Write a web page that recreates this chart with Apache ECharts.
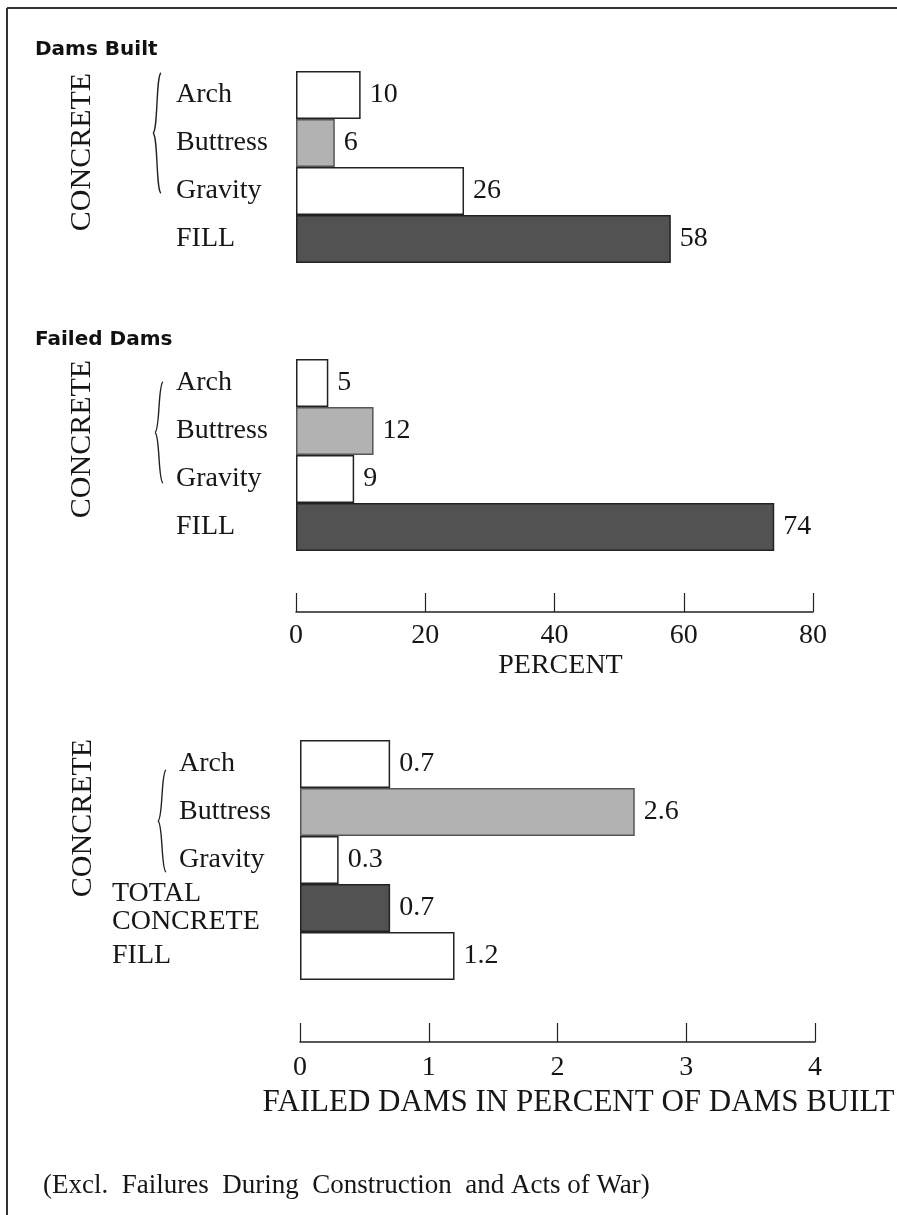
<!DOCTYPE html>
<html>
<head>
<meta charset="utf-8">
<script src="https://cdn.jsdelivr.net/npm/echarts@6/dist/echarts.min.js"></script>
<style>
  html, body { margin: 0; padding: 0; background: #ffffff; }
  #chart { width: 897px; height: 1215px; }
</style>
</head>
<body>
<div id="chart"></div>
<script>
// ---- data ----
const builtCategories = ['Arch', 'Buttress', 'Gravity', 'FILL'];
const builtValues = [10, 6, 26, 58];
const failedCategories = ['Arch', 'Buttress', 'Gravity', 'FILL'];
const failedValues = [5, 12, 9, 74];
const ratioCategories = ['Arch', 'Buttress', 'Gravity', 'TOTAL CONCRETE', 'FILL'];
const ratioValues = [0.7, 2.6, 0.3, 0.7, 1.2];
const percentTicks = [0, 20, 40, 60, 80];
const ratioTicks = [0, 1, 2, 3, 4];

// ---- styles ----
const SERIF = '"Liberation Serif", "Times New Roman", serif';
const INK = '#161616';
const fills = {
  open:  { color: '#ffffff', borderColor: '#222222', borderWidth: 1.5 },
  light: { color: '#b2b2b2', borderColor: '#555555', borderWidth: 1.5 },
  dark:  { color: '#525252', borderColor: '#222222', borderWidth: 1.5 }
};
const builtLook = { Arch: 'open', Buttress: 'light', Gravity: 'open', FILL: 'dark' };
const ratioLook = { Arch: 'open', Buttress: 'light', Gravity: 'open', 'TOTAL CONCRETE': 'dark', FILL: 'open' };

function items(cats, vals, look) {
  return vals.map((v, i) => ({ value: v, itemStyle: fills[look[cats[i]]] }));
}

const valueLabel = {
  show: true, position: 'right', distance: 9,
  fontFamily: SERIF, fontSize: 28, color: INK,
  formatter: p => String(p.value)
};

function catAxis(gridIndex, cats, margin, extra) {
  return Object.assign({
    gridIndex, type: 'category', data: cats, inverse: true,
    axisLine: { show: false }, axisTick: { show: false }, splitLine: { show: false },
    axisLabel: { align: 'left', margin, fontFamily: SERIF, fontSize: 28, color: INK, lineHeight: 28 }
  }, extra || {});
}

function valAxis(gridIndex, ticks, offset, name, nameGap, nameSize, labelMargin, namePadLeft) {
  return {
    gridIndex, type: 'value',
    min: ticks[0], max: ticks[ticks.length - 1], interval: ticks[1] - ticks[0],
    position: 'bottom', offset,
    axisLine: { show: true, lineStyle: { color: '#222', width: 1.5 } },
    axisTick: { show: true, inside: true, length: 19, lineStyle: { color: '#222', width: 1.2 } },
    splitLine: { show: false },
    axisLabel: { margin: labelMargin, fontFamily: SERIF, fontSize: 28, color: INK,
      formatter: v => String(v) },
    name, nameLocation: 'middle', nameGap,
    nameTextStyle: { fontFamily: SERIF, fontSize: nameSize, color: INK, padding: [0, 0, 0, namePadLeft] }
  };
}

function brace(x, top, bottom) {
  const mid = (top + bottom) / 2;
  const st = { stroke: '#222', lineWidth: 1.4, fill: null };
  return [
    { type: 'bezierCurve', silent: true, shape: { x1: x + 4, y1: top, cpx1: x - 1, cpy1: top + 2, cpx2: x + 1, cpy2: mid - 2, x2: x - 4, y2: mid }, style: st },
    { type: 'bezierCurve', silent: true, shape: { x1: x - 4, y1: mid, cpx1: x + 1, cpy1: mid + 2, cpx2: x - 1, cpy2: bottom - 2, x2: x + 4, y2: bottom }, style: st }
  ];
}

function vtext(x, y, text) {
  return { type: 'text', x, y, rotation: Math.PI / 2, silent: true,
    style: { text, font: '30px ' + SERIF, fill: INK, align: 'center', verticalAlign: 'middle' } };
}

const chart = echarts.init(document.getElementById('chart'), null, { renderer: 'canvas' });

const option = {
  backgroundColor: '#ffffff',
  animation: false,
  grid: [
    { left: 296, right: 84, top: 71, height: 192 },
    { left: 296, right: 84, top: 359, height: 192 },
    { left: 300, right: 82, top: 740, height: 240 }
  ],
  xAxis: [
    { gridIndex: 0, type: 'value', min: 0, max: 80, interval: 20, show: false },
    valAxis(1, percentTicks, 61, 'PERCENT', 40, 28, 10, 12),
    valAxis(2, ratioTicks, 62, 'FAILED DAMS IN PERCENT OF DAMS BUILT', 45, 31, 12, 42)
  ],
  yAxis: [
    catAxis(0, builtCategories, 120),
    catAxis(1, failedCategories, 120),
    catAxis(2, ratioCategories, 188, {
      axisLabel: {
        align: 'left', margin: 188, fontFamily: SERIF, fontSize: 28, color: INK, lineHeight: 28,
        formatter: v => (v === 'TOTAL CONCRETE') ? 'TOTAL\nCONCRETE'
                      : (v === 'FILL' ? v : '{p|' + v + '}'),
        rich: { p: { padding: [0, 0, 0, 67], fontFamily: SERIF, fontSize: 28, color: INK } }
      }
    })
  ],
  series: [
    { type: 'bar', xAxisIndex: 0, yAxisIndex: 0, barWidth: '100%', barCategoryGap: 0,
      data: items(builtCategories, builtValues, builtLook), label: valueLabel, silent: true },
    { type: 'bar', xAxisIndex: 1, yAxisIndex: 1, barWidth: '100%', barCategoryGap: 0,
      data: items(failedCategories, failedValues, builtLook), label: valueLabel, silent: true },
    { type: 'bar', xAxisIndex: 2, yAxisIndex: 2, barWidth: '100%', barCategoryGap: 0,
      data: items(ratioCategories, ratioValues, ratioLook), label: valueLabel, silent: true }
  ],
  graphic: [].concat(
    [
      { type: 'line', silent: true, shape: { x1: 7, y1: 8, x2: 897, y2: 8 }, style: { stroke: '#333', lineWidth: 2 } },
      { type: 'line', silent: true, shape: { x1: 7, y1: 8, x2: 7, y2: 1215 }, style: { stroke: '#333', lineWidth: 2 } },
      { type: 'text', x: 35, y: 50, silent: true,
        style: { text: 'Dams Built', font: 'bold 20px "DejaVu Sans", sans-serif', fill: '#111', align: 'left', verticalAlign: 'middle' } },
      { type: 'text', x: 35, y: 340, silent: true,
        style: { text: 'Failed Dams', font: 'bold 20px "DejaVu Sans", sans-serif', fill: '#111', align: 'left', verticalAlign: 'middle' } },
      vtext(82, 152, 'CONCRETE'),
      vtext(82, 439, 'CONCRETE'),
      vtext(83, 818, 'CONCRETE'),
      { type: 'text', x: 43, y: 1186, silent: true,
        style: { text: '(Excl.  Failures  During  Construction  and Acts of War)', font: '27px ' + SERIF, fill: INK, align: 'left', verticalAlign: 'middle' } }
    ],
    brace(157, 73, 193),
    brace(159, 382, 483),
    brace(162, 770, 872)
  )
};

chart.setOption(option);
</script>
</body>
</html>
